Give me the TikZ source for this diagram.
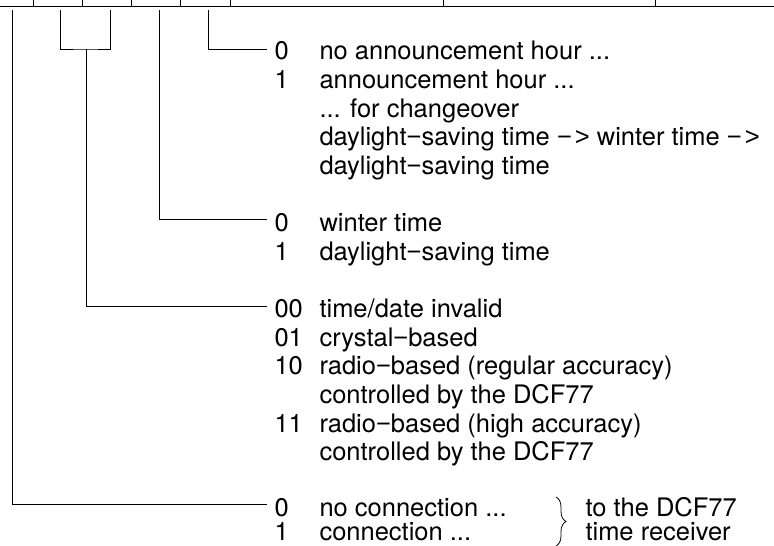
\documentclass[tikz,border=0pt]{standalone}
\usepackage{fontspec}
\setmainfont{TeX Gyre Heros}
\newfontfamily\minusfont{Liberation Sans}
\newcommand\mn{{\minusfont −}}
\newcommand\arr{{\minusfont −\kern3pt>}}
\usetikzlibrary{decorations.pathreplacing}
\begin{document}
\begin{tikzpicture}[x=1pt,y=-1pt,line width=1pt,
  txt/.style={font=\fontsize{25.5}{28}\selectfont,inner sep=0pt,anchor=base west},
  lead/.style={line width=1pt},
  brc/.style={line width=0.8pt,decorate,decoration={brace,amplitude=10pt,aspect=0.5}}]
\useasboundingbox (0,0) rectangle (774,546);
% register strip
\draw (0,6) -- (774,6);
\foreach \x in {33,82,131,180,230,443,655} \draw (\x,0) -- (\x,6);
% digit column x=274, text column x=319
\node[txt] (d0) at (274,59.7) {0};
\node[txt] (t0) at (319,59.7) {no announcement hour ...};
\node[txt] (d1) at (274,88.35) {1};
\node[txt] (t1) at (319,88.35) {announcement hour ...};
\node[txt] (t2) at (319,117) {... for changeover};
\node[txt] (t3) at (319,145.65) {daylight\mn saving time \arr{} winter time \arr};
\node[txt] (t4) at (319,174.3) {daylight\mn saving time};
\node[txt] (d6) at (274,231.6) {0};
\node[txt] (t6) at (319,231.6) {winter time};
\node[txt] (d7) at (274,260.25) {1};
\node[txt] (t7) at (319,260.25) {daylight\mn saving time};
\node[txt] (d9) at (274,317.55) {00};
\node[txt] (t9) at (319,317.55) {time/date invalid};
\node[txt] (d10) at (274,346.2) {01};
\node[txt] (t10) at (319,346.2) {crystal\mn based};
\node[txt] (d11) at (274,374.85) {10};
\node[txt] (t11) at (319,374.85) {radio\mn based (regular accuracy)};
\node[txt] (t12) at (319,403.5) {controlled by the DCF77};
\node[txt] (d13) at (274,432.15) {11};
\node[txt] (t13) at (319,432.15) {radio\mn based (high accuracy)};
\node[txt] (t14) at (319,460.8) {controlled by the DCF77};
\node[txt] (d16) at (274,516.5) {0};
\node[txt] (t16) at (319,516.5) {no connection ...};
\node[txt] (d17) at (274,540) {1};
\node[txt] (t17) at (319,540) {connection ...};
\node[txt] (r16) at (585,516.5) {to the DCF77};
\node[txt] (r17) at (585,540) {time receiver};
% brace
\coordinate (bt) at (556,497);
\coordinate (bb) at (556,546);
\draw[brc] (bt) -- (bb);
% leader lines
\coordinate (s0) at (12,10);
\coordinate (s1) at (60,10);
\coordinate (s2) at (110,10);
\coordinate (s3) at (159,10);
\coordinate (s4) at (208,10);
\coordinate (j12) at (86,49);
\coordinate (e0) at (267,49);
\coordinate (e1) at (267,219);
\coordinate (e2) at (267,306);
\coordinate (e3) at (267,504);
\draw[lead] (s4) |- (e0);
\draw[lead] (s3) |- (e1);
\draw[lead] (s1) |- (j12) -| (s2);
\draw[lead] (j12) |- (e2);
\draw[lead] (s0) |- (e3);
\end{tikzpicture}
\end{document}
